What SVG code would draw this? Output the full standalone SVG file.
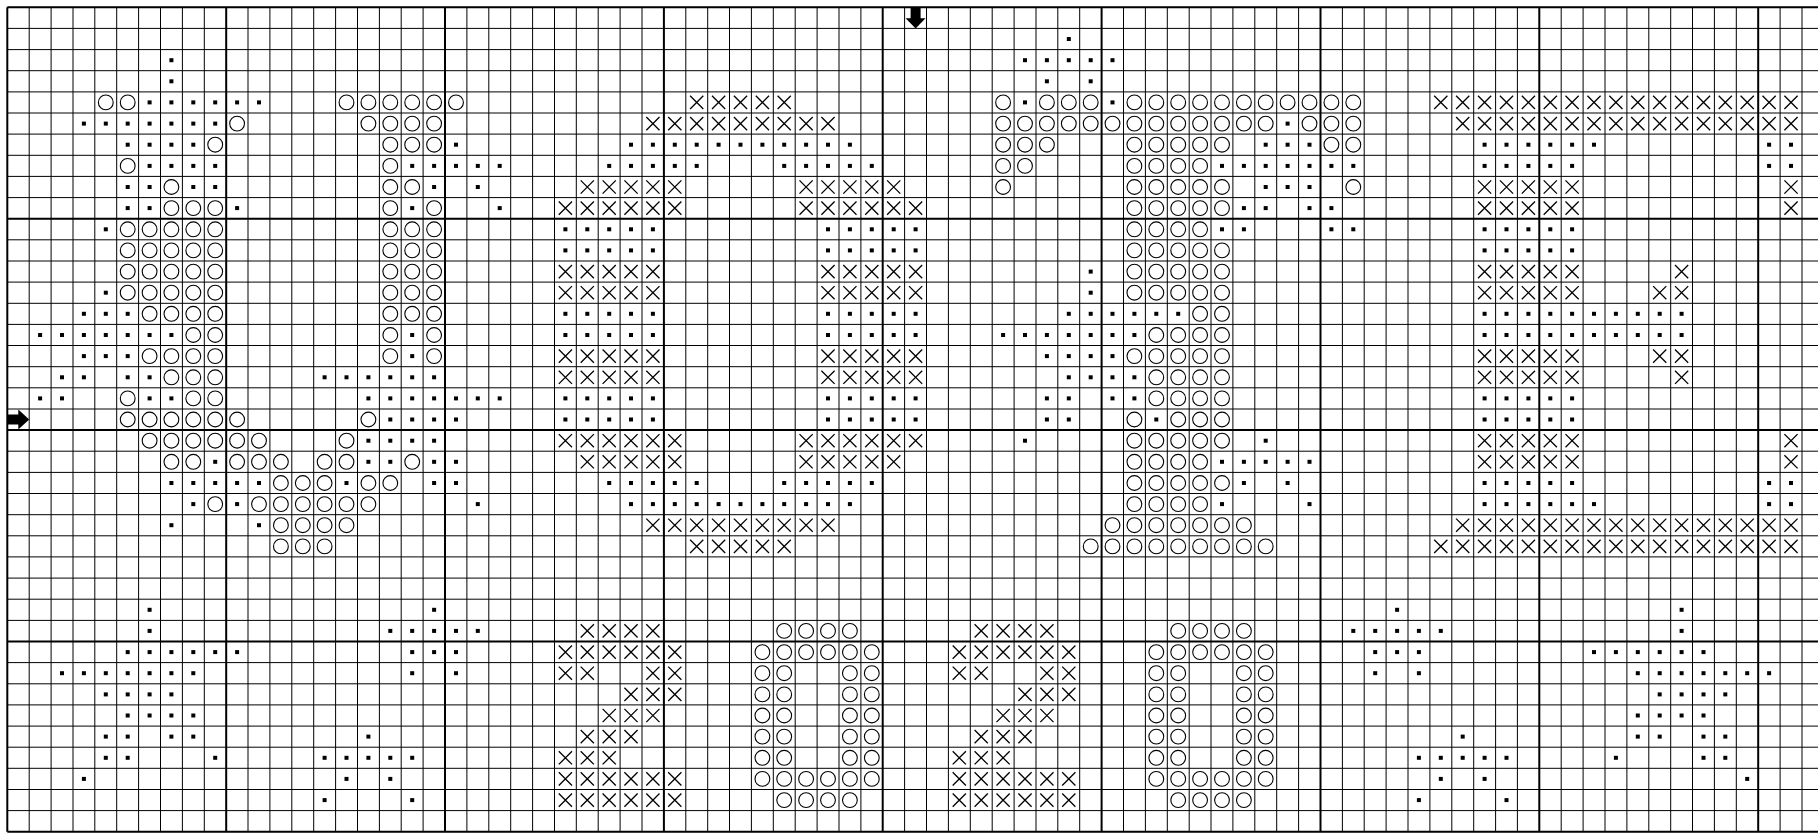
<svg xmlns="http://www.w3.org/2000/svg" width="1818" height="833" viewBox="0 0 1818 833">
<defs>
<style>
.thin{stroke:#000;stroke-width:1;fill:none}
.bold{stroke:#000;stroke-width:2;fill:none}
</style>
<rect id="d" x="-2" y="-2" width="4" height="4" fill="#000"/>
<circle id="o" r="7.4" fill="none" stroke="#000" stroke-width="1.1"/>
<path id="x" d="M-6.6,-6.6L6.6,6.6M6.6,-6.6L-6.6,6.6" stroke="#000" stroke-width="1.3" fill="none"/>
</defs>
<rect width="1818" height="833" fill="#fff"/>
<g id="grid">
<path class="thin" d="M29.2 7.3v824.5M51.1 7.3v824.5M73 7.3v824.5M94.8 7.3v824.5M116.7 7.3v824.5M138.6 7.3v824.5M160.5 7.3v824.5M182.4 7.3v824.5M204.3 7.3v824.5M248 7.3v824.5M269.9 7.3v824.5M291.8 7.3v824.5M313.7 7.3v824.5M335.6 7.3v824.5M357.5 7.3v824.5M379.4 7.3v824.5M401.2 7.3v824.5M423.1 7.3v824.5M466.9 7.3v824.5M488.8 7.3v824.5M510.7 7.3v824.5M532.6 7.3v824.5M554.5 7.3v824.5M576.3 7.3v824.5M598.2 7.3v824.5M620.1 7.3v824.5M642 7.3v824.5M685.8 7.3v824.5M707.7 7.3v824.5M729.5 7.3v824.5M751.4 7.3v824.5M773.3 7.3v824.5M795.2 7.3v824.5M817.1 7.3v824.5M839 7.3v824.5M860.9 7.3v824.5M904.6 7.3v824.5M926.5 7.3v824.5M948.4 7.3v824.5M970.3 7.3v824.5M992.2 7.3v824.5M1014.1 7.3v824.5M1036 7.3v824.5M1057.8 7.3v824.5M1079.7 7.3v824.5M1123.5 7.3v824.5M1145.4 7.3v824.5M1167.3 7.3v824.5M1189.2 7.3v824.5M1211 7.3v824.5M1232.9 7.3v824.5M1254.8 7.3v824.5M1276.7 7.3v824.5M1298.6 7.3v824.5M1342.4 7.3v824.5M1364.2 7.3v824.5M1386.1 7.3v824.5M1408 7.3v824.5M1429.9 7.3v824.5M1451.8 7.3v824.5M1473.7 7.3v824.5M1495.6 7.3v824.5M1517.4 7.3v824.5M1561.2 7.3v824.5M1583.1 7.3v824.5M1605 7.3v824.5M1626.9 7.3v824.5M1648.8 7.3v824.5M1670.7 7.3v824.5M1692.5 7.3v824.5M1714.4 7.3v824.5M1736.3 7.3v824.5M1780.1 7.3v824.5M1802 7.3v824.5
M7.3 28.4H1818M7.3 49.6H1818M7.3 70.7H1818M7.3 91.9H1818M7.3 113H1818M7.3 134.1H1818M7.3 155.3H1818M7.3 176.4H1818M7.3 197.6H1818M7.3 239.8H1818M7.3 261H1818M7.3 282.1H1818M7.3 303.3H1818M7.3 324.4H1818M7.3 345.5H1818M7.3 366.7H1818M7.3 387.8H1818M7.3 409H1818M7.3 451.2H1818M7.3 472.4H1818M7.3 493.5H1818M7.3 514.7H1818M7.3 535.8H1818M7.3 556.9H1818M7.3 578.1H1818M7.3 599.2H1818M7.3 620.4H1818M7.3 662.6H1818M7.3 683.8H1818M7.3 704.9H1818M7.3 726.1H1818M7.3 747.2H1818M7.3 768.3H1818M7.3 789.5H1818M7.3 810.6H1818"/>
<path class="bold" d="M7.3 7.3v824.5M226.2 7.3v824.5M445 7.3v824.5M663.9 7.3v824.5M882.7 7.3v824.5M1101.6 7.3v824.5M1320.5 7.3v824.5M1539.3 7.3v824.5M1758.2 7.3v824.5M7.3 7.3H1818M7.3 218.7H1818M7.3 430.1H1818M7.3 641.5H1818M7.3 831.8H1818"/>
</g>
<g id="stitches">
<g transform="translate(0,39)"><use href="#d" x="1068.8"/></g>
<g transform="translate(0,60.2)"><use href="#d" x="171.4"/><use href="#d" x="1025"/><use href="#d" x="1046.9"/><use href="#d" x="1068.8"/><use href="#d" x="1090.7"/><use href="#d" x="1112.5"/></g>
<g transform="translate(0,81.3)"><use href="#d" x="171.4"/><use href="#d" x="1046.9"/><use href="#d" x="1090.7"/></g>
<g transform="translate(0,102.4)"><use href="#o" x="105.8"/><use href="#o" x="127.7"/><use href="#d" x="149.6"/><use href="#d" x="171.4"/><use href="#d" x="193.3"/><use href="#d" x="215.2"/><use href="#d" x="237.1"/><use href="#d" x="259"/><use href="#o" x="346.5"/><use href="#o" x="368.4"/><use href="#o" x="390.3"/><use href="#o" x="412.2"/><use href="#o" x="434.1"/><use href="#o" x="456"/><use href="#x" x="696.7"/><use href="#x" x="718.6"/><use href="#x" x="740.5"/><use href="#x" x="762.4"/><use href="#x" x="784.2"/><use href="#o" x="1003.1"/><use href="#d" x="1025"/><use href="#o" x="1046.9"/><use href="#o" x="1068.8"/><use href="#o" x="1090.7"/><use href="#d" x="1112.5"/><use href="#o" x="1134.4"/><use href="#o" x="1156.3"/><use href="#o" x="1178.2"/><use href="#o" x="1200.1"/><use href="#o" x="1222"/><use href="#o" x="1243.9"/><use href="#o" x="1265.7"/><use href="#o" x="1287.6"/><use href="#o" x="1309.5"/><use href="#o" x="1331.4"/><use href="#o" x="1353.3"/><use href="#x" x="1440.8"/><use href="#x" x="1462.7"/><use href="#x" x="1484.6"/><use href="#x" x="1506.5"/><use href="#x" x="1528.4"/><use href="#x" x="1550.3"/><use href="#x" x="1572.1"/><use href="#x" x="1594"/><use href="#x" x="1615.9"/><use href="#x" x="1637.8"/><use href="#x" x="1659.7"/><use href="#x" x="1681.6"/><use href="#x" x="1703.5"/><use href="#x" x="1725.3"/><use href="#x" x="1747.2"/><use href="#x" x="1769.1"/><use href="#x" x="1791"/></g>
<g transform="translate(0,123.6)"><use href="#d" x="83.9"/><use href="#d" x="105.8"/><use href="#d" x="127.7"/><use href="#d" x="149.6"/><use href="#d" x="171.4"/><use href="#d" x="193.3"/><use href="#d" x="215.2"/><use href="#o" x="237.1"/><use href="#o" x="368.4"/><use href="#o" x="390.3"/><use href="#o" x="412.2"/><use href="#o" x="434.1"/><use href="#x" x="652.9"/><use href="#x" x="674.8"/><use href="#x" x="696.7"/><use href="#x" x="718.6"/><use href="#x" x="740.5"/><use href="#x" x="762.4"/><use href="#x" x="784.2"/><use href="#x" x="806.1"/><use href="#x" x="828"/><use href="#o" x="1003.1"/><use href="#o" x="1025"/><use href="#o" x="1046.9"/><use href="#o" x="1068.8"/><use href="#o" x="1090.7"/><use href="#o" x="1112.5"/><use href="#o" x="1134.4"/><use href="#o" x="1156.3"/><use href="#o" x="1178.2"/><use href="#o" x="1200.1"/><use href="#o" x="1222"/><use href="#o" x="1243.9"/><use href="#o" x="1265.7"/><use href="#d" x="1287.6"/><use href="#o" x="1309.5"/><use href="#o" x="1331.4"/><use href="#o" x="1353.3"/><use href="#x" x="1462.7"/><use href="#x" x="1484.6"/><use href="#x" x="1506.5"/><use href="#x" x="1528.4"/><use href="#x" x="1550.3"/><use href="#x" x="1572.1"/><use href="#x" x="1594"/><use href="#x" x="1615.9"/><use href="#x" x="1637.8"/><use href="#x" x="1659.7"/><use href="#x" x="1681.6"/><use href="#x" x="1703.5"/><use href="#x" x="1725.3"/><use href="#x" x="1747.2"/><use href="#x" x="1769.1"/><use href="#x" x="1791"/></g>
<g transform="translate(0,144.7)"><use href="#d" x="127.7"/><use href="#d" x="149.6"/><use href="#d" x="171.4"/><use href="#d" x="193.3"/><use href="#o" x="215.2"/><use href="#o" x="390.3"/><use href="#o" x="412.2"/><use href="#o" x="434.1"/><use href="#d" x="456"/><use href="#d" x="631"/><use href="#d" x="652.9"/><use href="#d" x="674.8"/><use href="#d" x="696.7"/><use href="#d" x="718.6"/><use href="#d" x="740.5"/><use href="#d" x="762.4"/><use href="#d" x="784.2"/><use href="#d" x="806.1"/><use href="#d" x="828"/><use href="#d" x="849.9"/><use href="#o" x="1003.1"/><use href="#o" x="1025"/><use href="#o" x="1046.9"/><use href="#o" x="1134.4"/><use href="#o" x="1156.3"/><use href="#o" x="1178.2"/><use href="#o" x="1200.1"/><use href="#o" x="1222"/><use href="#d" x="1265.7"/><use href="#d" x="1287.6"/><use href="#d" x="1309.5"/><use href="#o" x="1331.4"/><use href="#o" x="1353.3"/><use href="#d" x="1484.6"/><use href="#d" x="1506.5"/><use href="#d" x="1528.4"/><use href="#d" x="1550.3"/><use href="#d" x="1572.1"/><use href="#d" x="1594"/><use href="#d" x="1769.1"/><use href="#d" x="1791"/></g>
<g transform="translate(0,165.9)"><use href="#o" x="127.7"/><use href="#d" x="149.6"/><use href="#d" x="171.4"/><use href="#d" x="193.3"/><use href="#d" x="215.2"/><use href="#o" x="390.3"/><use href="#d" x="412.2"/><use href="#d" x="434.1"/><use href="#d" x="456"/><use href="#d" x="477.8"/><use href="#d" x="499.7"/><use href="#d" x="609.2"/><use href="#d" x="631"/><use href="#d" x="652.9"/><use href="#d" x="674.8"/><use href="#d" x="696.7"/><use href="#d" x="784.2"/><use href="#d" x="806.1"/><use href="#d" x="828"/><use href="#d" x="849.9"/><use href="#d" x="871.8"/><use href="#o" x="1003.1"/><use href="#o" x="1025"/><use href="#o" x="1134.4"/><use href="#o" x="1156.3"/><use href="#o" x="1178.2"/><use href="#o" x="1200.1"/><use href="#d" x="1222"/><use href="#d" x="1243.9"/><use href="#d" x="1265.7"/><use href="#d" x="1287.6"/><use href="#d" x="1309.5"/><use href="#d" x="1331.4"/><use href="#d" x="1353.3"/><use href="#d" x="1484.6"/><use href="#d" x="1506.5"/><use href="#d" x="1528.4"/><use href="#d" x="1550.3"/><use href="#d" x="1572.1"/><use href="#d" x="1769.1"/><use href="#d" x="1791"/></g>
<g transform="translate(0,187)"><use href="#d" x="127.7"/><use href="#d" x="149.6"/><use href="#o" x="171.4"/><use href="#d" x="193.3"/><use href="#d" x="215.2"/><use href="#o" x="390.3"/><use href="#o" x="412.2"/><use href="#d" x="434.1"/><use href="#d" x="477.8"/><use href="#x" x="587.3"/><use href="#x" x="609.2"/><use href="#x" x="631"/><use href="#x" x="652.9"/><use href="#x" x="674.8"/><use href="#x" x="806.1"/><use href="#x" x="828"/><use href="#x" x="849.9"/><use href="#x" x="871.8"/><use href="#x" x="893.7"/><use href="#o" x="1003.1"/><use href="#o" x="1134.4"/><use href="#o" x="1156.3"/><use href="#o" x="1178.2"/><use href="#o" x="1200.1"/><use href="#o" x="1222"/><use href="#d" x="1265.7"/><use href="#d" x="1287.6"/><use href="#d" x="1309.5"/><use href="#o" x="1353.3"/><use href="#x" x="1484.6"/><use href="#x" x="1506.5"/><use href="#x" x="1528.4"/><use href="#x" x="1550.3"/><use href="#x" x="1572.1"/><use href="#x" x="1791"/></g>
<g transform="translate(0,208.1)"><use href="#d" x="127.7"/><use href="#d" x="149.6"/><use href="#o" x="171.4"/><use href="#o" x="193.3"/><use href="#o" x="215.2"/><use href="#d" x="237.1"/><use href="#o" x="390.3"/><use href="#d" x="412.2"/><use href="#o" x="434.1"/><use href="#d" x="499.7"/><use href="#x" x="565.4"/><use href="#x" x="587.3"/><use href="#x" x="609.2"/><use href="#x" x="631"/><use href="#x" x="652.9"/><use href="#x" x="674.8"/><use href="#x" x="806.1"/><use href="#x" x="828"/><use href="#x" x="849.9"/><use href="#x" x="871.8"/><use href="#x" x="893.7"/><use href="#x" x="915.6"/><use href="#o" x="1134.4"/><use href="#o" x="1156.3"/><use href="#o" x="1178.2"/><use href="#o" x="1200.1"/><use href="#o" x="1222"/><use href="#d" x="1243.9"/><use href="#d" x="1265.7"/><use href="#d" x="1309.5"/><use href="#d" x="1331.4"/><use href="#x" x="1484.6"/><use href="#x" x="1506.5"/><use href="#x" x="1528.4"/><use href="#x" x="1550.3"/><use href="#x" x="1572.1"/><use href="#x" x="1791"/></g>
<g transform="translate(0,229.3)"><use href="#d" x="105.8"/><use href="#o" x="127.7"/><use href="#o" x="149.6"/><use href="#o" x="171.4"/><use href="#o" x="193.3"/><use href="#o" x="215.2"/><use href="#o" x="390.3"/><use href="#o" x="412.2"/><use href="#o" x="434.1"/><use href="#d" x="565.4"/><use href="#d" x="587.3"/><use href="#d" x="609.2"/><use href="#d" x="631"/><use href="#d" x="652.9"/><use href="#d" x="828"/><use href="#d" x="849.9"/><use href="#d" x="871.8"/><use href="#d" x="893.7"/><use href="#d" x="915.6"/><use href="#o" x="1134.4"/><use href="#o" x="1156.3"/><use href="#o" x="1178.2"/><use href="#o" x="1200.1"/><use href="#d" x="1222"/><use href="#d" x="1243.9"/><use href="#d" x="1331.4"/><use href="#d" x="1353.3"/><use href="#d" x="1484.6"/><use href="#d" x="1506.5"/><use href="#d" x="1528.4"/><use href="#d" x="1550.3"/><use href="#d" x="1572.1"/></g>
<g transform="translate(0,250.4)"><use href="#o" x="127.7"/><use href="#o" x="149.6"/><use href="#o" x="171.4"/><use href="#o" x="193.3"/><use href="#o" x="215.2"/><use href="#o" x="390.3"/><use href="#o" x="412.2"/><use href="#o" x="434.1"/><use href="#d" x="565.4"/><use href="#d" x="587.3"/><use href="#d" x="609.2"/><use href="#d" x="631"/><use href="#d" x="652.9"/><use href="#d" x="828"/><use href="#d" x="849.9"/><use href="#d" x="871.8"/><use href="#d" x="893.7"/><use href="#d" x="915.6"/><use href="#o" x="1134.4"/><use href="#o" x="1156.3"/><use href="#o" x="1178.2"/><use href="#o" x="1200.1"/><use href="#o" x="1222"/><use href="#d" x="1484.6"/><use href="#d" x="1506.5"/><use href="#d" x="1528.4"/><use href="#d" x="1550.3"/><use href="#d" x="1572.1"/></g>
<g transform="translate(0,271.6)"><use href="#o" x="127.7"/><use href="#o" x="149.6"/><use href="#o" x="171.4"/><use href="#o" x="193.3"/><use href="#o" x="215.2"/><use href="#o" x="390.3"/><use href="#o" x="412.2"/><use href="#o" x="434.1"/><use href="#x" x="565.4"/><use href="#x" x="587.3"/><use href="#x" x="609.2"/><use href="#x" x="631"/><use href="#x" x="652.9"/><use href="#x" x="828"/><use href="#x" x="849.9"/><use href="#x" x="871.8"/><use href="#x" x="893.7"/><use href="#x" x="915.6"/><use href="#d" x="1090.7"/><use href="#o" x="1134.4"/><use href="#o" x="1156.3"/><use href="#o" x="1178.2"/><use href="#o" x="1200.1"/><use href="#o" x="1222"/><use href="#x" x="1484.6"/><use href="#x" x="1506.5"/><use href="#x" x="1528.4"/><use href="#x" x="1550.3"/><use href="#x" x="1572.1"/><use href="#x" x="1681.6"/></g>
<g transform="translate(0,292.7)"><use href="#d" x="105.8"/><use href="#o" x="127.7"/><use href="#o" x="149.6"/><use href="#o" x="171.4"/><use href="#o" x="193.3"/><use href="#o" x="215.2"/><use href="#o" x="390.3"/><use href="#o" x="412.2"/><use href="#o" x="434.1"/><use href="#x" x="565.4"/><use href="#x" x="587.3"/><use href="#x" x="609.2"/><use href="#x" x="631"/><use href="#x" x="652.9"/><use href="#x" x="828"/><use href="#x" x="849.9"/><use href="#x" x="871.8"/><use href="#x" x="893.7"/><use href="#x" x="915.6"/><use href="#d" x="1090.7"/><use href="#o" x="1134.4"/><use href="#o" x="1156.3"/><use href="#o" x="1178.2"/><use href="#o" x="1200.1"/><use href="#o" x="1222"/><use href="#x" x="1484.6"/><use href="#x" x="1506.5"/><use href="#x" x="1528.4"/><use href="#x" x="1550.3"/><use href="#x" x="1572.1"/><use href="#x" x="1659.7"/><use href="#x" x="1681.6"/></g>
<g transform="translate(0,313.8)"><use href="#d" x="83.9"/><use href="#d" x="105.8"/><use href="#d" x="127.7"/><use href="#o" x="149.6"/><use href="#o" x="171.4"/><use href="#o" x="193.3"/><use href="#o" x="215.2"/><use href="#o" x="390.3"/><use href="#o" x="412.2"/><use href="#o" x="434.1"/><use href="#d" x="565.4"/><use href="#d" x="587.3"/><use href="#d" x="609.2"/><use href="#d" x="631"/><use href="#d" x="652.9"/><use href="#d" x="828"/><use href="#d" x="849.9"/><use href="#d" x="871.8"/><use href="#d" x="893.7"/><use href="#d" x="915.6"/><use href="#d" x="1068.8"/><use href="#d" x="1090.7"/><use href="#d" x="1112.5"/><use href="#d" x="1134.4"/><use href="#d" x="1156.3"/><use href="#d" x="1178.2"/><use href="#o" x="1200.1"/><use href="#o" x="1222"/><use href="#d" x="1484.6"/><use href="#d" x="1506.5"/><use href="#d" x="1528.4"/><use href="#d" x="1550.3"/><use href="#d" x="1572.1"/><use href="#d" x="1594"/><use href="#d" x="1615.9"/><use href="#d" x="1637.8"/><use href="#d" x="1659.7"/><use href="#d" x="1681.6"/></g>
<g transform="translate(0,335)"><use href="#d" x="40.1"/><use href="#d" x="62"/><use href="#d" x="83.9"/><use href="#d" x="105.8"/><use href="#d" x="127.7"/><use href="#d" x="149.6"/><use href="#d" x="171.4"/><use href="#o" x="193.3"/><use href="#o" x="215.2"/><use href="#o" x="390.3"/><use href="#d" x="412.2"/><use href="#o" x="434.1"/><use href="#d" x="565.4"/><use href="#d" x="587.3"/><use href="#d" x="609.2"/><use href="#d" x="631"/><use href="#d" x="652.9"/><use href="#d" x="828"/><use href="#d" x="849.9"/><use href="#d" x="871.8"/><use href="#d" x="893.7"/><use href="#d" x="915.6"/><use href="#d" x="1003.1"/><use href="#d" x="1025"/><use href="#d" x="1046.9"/><use href="#d" x="1068.8"/><use href="#d" x="1090.7"/><use href="#d" x="1112.5"/><use href="#d" x="1134.4"/><use href="#o" x="1156.3"/><use href="#o" x="1178.2"/><use href="#o" x="1200.1"/><use href="#o" x="1222"/><use href="#d" x="1484.6"/><use href="#d" x="1506.5"/><use href="#d" x="1528.4"/><use href="#d" x="1550.3"/><use href="#d" x="1572.1"/><use href="#d" x="1594"/><use href="#d" x="1615.9"/><use href="#d" x="1637.8"/><use href="#d" x="1659.7"/><use href="#d" x="1681.6"/></g>
<g transform="translate(0,356.1)"><use href="#d" x="83.9"/><use href="#d" x="105.8"/><use href="#d" x="127.7"/><use href="#o" x="149.6"/><use href="#o" x="171.4"/><use href="#o" x="193.3"/><use href="#o" x="215.2"/><use href="#o" x="390.3"/><use href="#d" x="412.2"/><use href="#o" x="434.1"/><use href="#x" x="565.4"/><use href="#x" x="587.3"/><use href="#x" x="609.2"/><use href="#x" x="631"/><use href="#x" x="652.9"/><use href="#x" x="828"/><use href="#x" x="849.9"/><use href="#x" x="871.8"/><use href="#x" x="893.7"/><use href="#x" x="915.6"/><use href="#d" x="1046.9"/><use href="#d" x="1068.8"/><use href="#d" x="1090.7"/><use href="#d" x="1112.5"/><use href="#o" x="1134.4"/><use href="#o" x="1156.3"/><use href="#o" x="1178.2"/><use href="#o" x="1200.1"/><use href="#o" x="1222"/><use href="#x" x="1484.6"/><use href="#x" x="1506.5"/><use href="#x" x="1528.4"/><use href="#x" x="1550.3"/><use href="#x" x="1572.1"/><use href="#x" x="1659.7"/><use href="#x" x="1681.6"/></g>
<g transform="translate(0,377.3)"><use href="#d" x="62"/><use href="#d" x="83.9"/><use href="#d" x="127.7"/><use href="#d" x="149.6"/><use href="#o" x="171.4"/><use href="#o" x="193.3"/><use href="#o" x="215.2"/><use href="#d" x="324.6"/><use href="#d" x="346.5"/><use href="#d" x="368.4"/><use href="#d" x="390.3"/><use href="#d" x="412.2"/><use href="#d" x="434.1"/><use href="#x" x="565.4"/><use href="#x" x="587.3"/><use href="#x" x="609.2"/><use href="#x" x="631"/><use href="#x" x="652.9"/><use href="#x" x="828"/><use href="#x" x="849.9"/><use href="#x" x="871.8"/><use href="#x" x="893.7"/><use href="#x" x="915.6"/><use href="#d" x="1068.8"/><use href="#d" x="1090.7"/><use href="#d" x="1112.5"/><use href="#d" x="1134.4"/><use href="#o" x="1156.3"/><use href="#o" x="1178.2"/><use href="#o" x="1200.1"/><use href="#o" x="1222"/><use href="#x" x="1484.6"/><use href="#x" x="1506.5"/><use href="#x" x="1528.4"/><use href="#x" x="1550.3"/><use href="#x" x="1572.1"/><use href="#x" x="1681.6"/></g>
<g transform="translate(0,398.4)"><use href="#d" x="40.1"/><use href="#d" x="62"/><use href="#o" x="127.7"/><use href="#d" x="149.6"/><use href="#d" x="171.4"/><use href="#o" x="193.3"/><use href="#o" x="215.2"/><use href="#d" x="368.4"/><use href="#d" x="390.3"/><use href="#d" x="412.2"/><use href="#d" x="434.1"/><use href="#d" x="456"/><use href="#d" x="477.8"/><use href="#d" x="499.7"/><use href="#d" x="565.4"/><use href="#d" x="587.3"/><use href="#d" x="609.2"/><use href="#d" x="631"/><use href="#d" x="652.9"/><use href="#d" x="828"/><use href="#d" x="849.9"/><use href="#d" x="871.8"/><use href="#d" x="893.7"/><use href="#d" x="915.6"/><use href="#d" x="1046.9"/><use href="#d" x="1068.8"/><use href="#d" x="1112.5"/><use href="#d" x="1134.4"/><use href="#o" x="1156.3"/><use href="#o" x="1178.2"/><use href="#o" x="1200.1"/><use href="#o" x="1222"/><use href="#d" x="1484.6"/><use href="#d" x="1506.5"/><use href="#d" x="1528.4"/><use href="#d" x="1550.3"/><use href="#d" x="1572.1"/></g>
<g transform="translate(0,419.5)"><use href="#o" x="127.7"/><use href="#o" x="149.6"/><use href="#o" x="171.4"/><use href="#o" x="193.3"/><use href="#o" x="215.2"/><use href="#o" x="237.1"/><use href="#o" x="368.4"/><use href="#d" x="390.3"/><use href="#d" x="412.2"/><use href="#d" x="434.1"/><use href="#d" x="456"/><use href="#d" x="565.4"/><use href="#d" x="587.3"/><use href="#d" x="609.2"/><use href="#d" x="631"/><use href="#d" x="652.9"/><use href="#d" x="828"/><use href="#d" x="849.9"/><use href="#d" x="871.8"/><use href="#d" x="893.7"/><use href="#d" x="915.6"/><use href="#d" x="1046.9"/><use href="#d" x="1068.8"/><use href="#o" x="1134.4"/><use href="#d" x="1156.3"/><use href="#o" x="1178.2"/><use href="#o" x="1200.1"/><use href="#o" x="1222"/><use href="#d" x="1484.6"/><use href="#d" x="1506.5"/><use href="#d" x="1528.4"/><use href="#d" x="1550.3"/><use href="#d" x="1572.1"/></g>
<g transform="translate(0,440.7)"><use href="#o" x="149.6"/><use href="#o" x="171.4"/><use href="#o" x="193.3"/><use href="#o" x="215.2"/><use href="#o" x="237.1"/><use href="#o" x="259"/><use href="#o" x="346.5"/><use href="#d" x="368.4"/><use href="#d" x="390.3"/><use href="#d" x="412.2"/><use href="#d" x="434.1"/><use href="#x" x="565.4"/><use href="#x" x="587.3"/><use href="#x" x="609.2"/><use href="#x" x="631"/><use href="#x" x="652.9"/><use href="#x" x="674.8"/><use href="#x" x="806.1"/><use href="#x" x="828"/><use href="#x" x="849.9"/><use href="#x" x="871.8"/><use href="#x" x="893.7"/><use href="#x" x="915.6"/><use href="#d" x="1025"/><use href="#o" x="1134.4"/><use href="#o" x="1156.3"/><use href="#o" x="1178.2"/><use href="#o" x="1200.1"/><use href="#o" x="1222"/><use href="#d" x="1265.7"/><use href="#x" x="1484.6"/><use href="#x" x="1506.5"/><use href="#x" x="1528.4"/><use href="#x" x="1550.3"/><use href="#x" x="1572.1"/><use href="#x" x="1791"/></g>
<g transform="translate(0,461.8)"><use href="#o" x="171.4"/><use href="#o" x="193.3"/><use href="#d" x="215.2"/><use href="#o" x="237.1"/><use href="#o" x="259"/><use href="#o" x="280.9"/><use href="#o" x="324.6"/><use href="#o" x="346.5"/><use href="#d" x="368.4"/><use href="#d" x="390.3"/><use href="#o" x="412.2"/><use href="#d" x="434.1"/><use href="#d" x="456"/><use href="#x" x="587.3"/><use href="#x" x="609.2"/><use href="#x" x="631"/><use href="#x" x="652.9"/><use href="#x" x="674.8"/><use href="#x" x="806.1"/><use href="#x" x="828"/><use href="#x" x="849.9"/><use href="#x" x="871.8"/><use href="#x" x="893.7"/><use href="#o" x="1134.4"/><use href="#o" x="1156.3"/><use href="#o" x="1178.2"/><use href="#o" x="1200.1"/><use href="#d" x="1222"/><use href="#d" x="1243.9"/><use href="#d" x="1265.7"/><use href="#d" x="1287.6"/><use href="#d" x="1309.5"/><use href="#x" x="1484.6"/><use href="#x" x="1506.5"/><use href="#x" x="1528.4"/><use href="#x" x="1550.3"/><use href="#x" x="1572.1"/><use href="#x" x="1791"/></g>
<g transform="translate(0,483)"><use href="#d" x="171.4"/><use href="#d" x="193.3"/><use href="#d" x="215.2"/><use href="#d" x="237.1"/><use href="#d" x="259"/><use href="#o" x="280.9"/><use href="#o" x="302.8"/><use href="#o" x="324.6"/><use href="#d" x="346.5"/><use href="#o" x="368.4"/><use href="#o" x="390.3"/><use href="#d" x="434.1"/><use href="#d" x="456"/><use href="#d" x="609.2"/><use href="#d" x="631"/><use href="#d" x="652.9"/><use href="#d" x="674.8"/><use href="#d" x="696.7"/><use href="#d" x="784.2"/><use href="#d" x="806.1"/><use href="#d" x="828"/><use href="#d" x="849.9"/><use href="#d" x="871.8"/><use href="#o" x="1134.4"/><use href="#o" x="1156.3"/><use href="#o" x="1178.2"/><use href="#o" x="1200.1"/><use href="#o" x="1222"/><use href="#d" x="1243.9"/><use href="#d" x="1287.6"/><use href="#d" x="1484.6"/><use href="#d" x="1506.5"/><use href="#d" x="1528.4"/><use href="#d" x="1550.3"/><use href="#d" x="1572.1"/><use href="#d" x="1769.1"/><use href="#d" x="1791"/></g>
<g transform="translate(0,504.1)"><use href="#d" x="193.3"/><use href="#o" x="215.2"/><use href="#d" x="237.1"/><use href="#o" x="259"/><use href="#o" x="280.9"/><use href="#o" x="302.8"/><use href="#o" x="324.6"/><use href="#o" x="346.5"/><use href="#o" x="368.4"/><use href="#d" x="477.8"/><use href="#d" x="631"/><use href="#d" x="652.9"/><use href="#d" x="674.8"/><use href="#d" x="696.7"/><use href="#d" x="718.6"/><use href="#d" x="740.5"/><use href="#d" x="762.4"/><use href="#d" x="784.2"/><use href="#d" x="806.1"/><use href="#d" x="828"/><use href="#d" x="849.9"/><use href="#o" x="1134.4"/><use href="#o" x="1156.3"/><use href="#o" x="1178.2"/><use href="#o" x="1200.1"/><use href="#d" x="1222"/><use href="#d" x="1309.5"/><use href="#d" x="1484.6"/><use href="#d" x="1506.5"/><use href="#d" x="1528.4"/><use href="#d" x="1550.3"/><use href="#d" x="1572.1"/><use href="#d" x="1594"/><use href="#d" x="1769.1"/><use href="#d" x="1791"/></g>
<g transform="translate(0,525.2)"><use href="#d" x="171.4"/><use href="#d" x="259"/><use href="#o" x="280.9"/><use href="#o" x="302.8"/><use href="#o" x="324.6"/><use href="#o" x="346.5"/><use href="#x" x="652.9"/><use href="#x" x="674.8"/><use href="#x" x="696.7"/><use href="#x" x="718.6"/><use href="#x" x="740.5"/><use href="#x" x="762.4"/><use href="#x" x="784.2"/><use href="#x" x="806.1"/><use href="#x" x="828"/><use href="#o" x="1112.5"/><use href="#o" x="1134.4"/><use href="#o" x="1156.3"/><use href="#o" x="1178.2"/><use href="#o" x="1200.1"/><use href="#o" x="1222"/><use href="#o" x="1243.9"/><use href="#x" x="1462.7"/><use href="#x" x="1484.6"/><use href="#x" x="1506.5"/><use href="#x" x="1528.4"/><use href="#x" x="1550.3"/><use href="#x" x="1572.1"/><use href="#x" x="1594"/><use href="#x" x="1615.9"/><use href="#x" x="1637.8"/><use href="#x" x="1659.7"/><use href="#x" x="1681.6"/><use href="#x" x="1703.5"/><use href="#x" x="1725.3"/><use href="#x" x="1747.2"/><use href="#x" x="1769.1"/><use href="#x" x="1791"/></g>
<g transform="translate(0,546.4)"><use href="#o" x="280.9"/><use href="#o" x="302.8"/><use href="#o" x="324.6"/><use href="#x" x="696.7"/><use href="#x" x="718.6"/><use href="#x" x="740.5"/><use href="#x" x="762.4"/><use href="#x" x="784.2"/><use href="#o" x="1090.7"/><use href="#o" x="1112.5"/><use href="#o" x="1134.4"/><use href="#o" x="1156.3"/><use href="#o" x="1178.2"/><use href="#o" x="1200.1"/><use href="#o" x="1222"/><use href="#o" x="1243.9"/><use href="#o" x="1265.7"/><use href="#x" x="1440.8"/><use href="#x" x="1462.7"/><use href="#x" x="1484.6"/><use href="#x" x="1506.5"/><use href="#x" x="1528.4"/><use href="#x" x="1550.3"/><use href="#x" x="1572.1"/><use href="#x" x="1594"/><use href="#x" x="1615.9"/><use href="#x" x="1637.8"/><use href="#x" x="1659.7"/><use href="#x" x="1681.6"/><use href="#x" x="1703.5"/><use href="#x" x="1725.3"/><use href="#x" x="1747.2"/><use href="#x" x="1769.1"/><use href="#x" x="1791"/></g>
<g transform="translate(0,609.8)"><use href="#d" x="149.6"/><use href="#d" x="434.1"/><use href="#d" x="1397.1"/><use href="#d" x="1681.6"/></g>
<g transform="translate(0,630.9)"><use href="#d" x="149.6"/><use href="#d" x="390.3"/><use href="#d" x="412.2"/><use href="#d" x="434.1"/><use href="#d" x="456"/><use href="#d" x="477.8"/><use href="#x" x="587.3"/><use href="#x" x="609.2"/><use href="#x" x="631"/><use href="#x" x="652.9"/><use href="#o" x="784.2"/><use href="#o" x="806.1"/><use href="#o" x="828"/><use href="#o" x="849.9"/><use href="#x" x="981.2"/><use href="#x" x="1003.1"/><use href="#x" x="1025"/><use href="#x" x="1046.9"/><use href="#o" x="1178.2"/><use href="#o" x="1200.1"/><use href="#o" x="1222"/><use href="#o" x="1243.9"/><use href="#d" x="1353.3"/><use href="#d" x="1375.2"/><use href="#d" x="1397.1"/><use href="#d" x="1418.9"/><use href="#d" x="1440.8"/><use href="#d" x="1681.6"/></g>
<g transform="translate(0,652.1)"><use href="#d" x="127.7"/><use href="#d" x="149.6"/><use href="#d" x="171.4"/><use href="#d" x="193.3"/><use href="#d" x="215.2"/><use href="#d" x="237.1"/><use href="#d" x="412.2"/><use href="#d" x="434.1"/><use href="#d" x="456"/><use href="#x" x="565.4"/><use href="#x" x="587.3"/><use href="#x" x="609.2"/><use href="#x" x="631"/><use href="#x" x="652.9"/><use href="#x" x="674.8"/><use href="#o" x="762.4"/><use href="#o" x="784.2"/><use href="#o" x="806.1"/><use href="#o" x="828"/><use href="#o" x="849.9"/><use href="#o" x="871.8"/><use href="#x" x="959.3"/><use href="#x" x="981.2"/><use href="#x" x="1003.1"/><use href="#x" x="1025"/><use href="#x" x="1046.9"/><use href="#x" x="1068.8"/><use href="#o" x="1156.3"/><use href="#o" x="1178.2"/><use href="#o" x="1200.1"/><use href="#o" x="1222"/><use href="#o" x="1243.9"/><use href="#o" x="1265.7"/><use href="#d" x="1375.2"/><use href="#d" x="1397.1"/><use href="#d" x="1418.9"/><use href="#d" x="1594"/><use href="#d" x="1615.9"/><use href="#d" x="1637.8"/><use href="#d" x="1659.7"/><use href="#d" x="1681.6"/><use href="#d" x="1703.5"/></g>
<g transform="translate(0,673.2)"><use href="#d" x="62"/><use href="#d" x="83.9"/><use href="#d" x="105.8"/><use href="#d" x="127.7"/><use href="#d" x="149.6"/><use href="#d" x="171.4"/><use href="#d" x="193.3"/><use href="#d" x="412.2"/><use href="#d" x="456"/><use href="#x" x="565.4"/><use href="#x" x="587.3"/><use href="#x" x="652.9"/><use href="#x" x="674.8"/><use href="#o" x="762.4"/><use href="#o" x="784.2"/><use href="#o" x="849.9"/><use href="#o" x="871.8"/><use href="#x" x="959.3"/><use href="#x" x="981.2"/><use href="#x" x="1046.9"/><use href="#x" x="1068.8"/><use href="#o" x="1156.3"/><use href="#o" x="1178.2"/><use href="#o" x="1243.9"/><use href="#o" x="1265.7"/><use href="#d" x="1375.2"/><use href="#d" x="1418.9"/><use href="#d" x="1637.8"/><use href="#d" x="1659.7"/><use href="#d" x="1681.6"/><use href="#d" x="1703.5"/><use href="#d" x="1725.3"/><use href="#d" x="1747.2"/><use href="#d" x="1769.1"/></g>
<g transform="translate(0,694.4)"><use href="#d" x="105.8"/><use href="#d" x="127.7"/><use href="#d" x="149.6"/><use href="#d" x="171.4"/><use href="#x" x="631"/><use href="#x" x="652.9"/><use href="#x" x="674.8"/><use href="#o" x="762.4"/><use href="#o" x="784.2"/><use href="#o" x="849.9"/><use href="#o" x="871.8"/><use href="#x" x="1025"/><use href="#x" x="1046.9"/><use href="#x" x="1068.8"/><use href="#o" x="1156.3"/><use href="#o" x="1178.2"/><use href="#o" x="1243.9"/><use href="#o" x="1265.7"/><use href="#d" x="1659.7"/><use href="#d" x="1681.6"/><use href="#d" x="1703.5"/><use href="#d" x="1725.3"/></g>
<g transform="translate(0,715.5)"><use href="#d" x="127.7"/><use href="#d" x="149.6"/><use href="#d" x="171.4"/><use href="#d" x="193.3"/><use href="#x" x="609.2"/><use href="#x" x="631"/><use href="#x" x="652.9"/><use href="#o" x="762.4"/><use href="#o" x="784.2"/><use href="#o" x="849.9"/><use href="#o" x="871.8"/><use href="#x" x="1003.1"/><use href="#x" x="1025"/><use href="#x" x="1046.9"/><use href="#o" x="1156.3"/><use href="#o" x="1178.2"/><use href="#o" x="1243.9"/><use href="#o" x="1265.7"/><use href="#d" x="1637.8"/><use href="#d" x="1659.7"/><use href="#d" x="1681.6"/><use href="#d" x="1703.5"/></g>
<g transform="translate(0,736.6)"><use href="#d" x="105.8"/><use href="#d" x="127.7"/><use href="#d" x="171.4"/><use href="#d" x="193.3"/><use href="#d" x="368.4"/><use href="#x" x="587.3"/><use href="#x" x="609.2"/><use href="#x" x="631"/><use href="#o" x="762.4"/><use href="#o" x="784.2"/><use href="#o" x="849.9"/><use href="#o" x="871.8"/><use href="#x" x="981.2"/><use href="#x" x="1003.1"/><use href="#x" x="1025"/><use href="#o" x="1156.3"/><use href="#o" x="1178.2"/><use href="#o" x="1243.9"/><use href="#o" x="1265.7"/><use href="#d" x="1462.7"/><use href="#d" x="1637.8"/><use href="#d" x="1659.7"/><use href="#d" x="1703.5"/><use href="#d" x="1725.3"/></g>
<g transform="translate(0,757.8)"><use href="#d" x="105.8"/><use href="#d" x="127.7"/><use href="#d" x="215.2"/><use href="#d" x="324.6"/><use href="#d" x="346.5"/><use href="#d" x="368.4"/><use href="#d" x="390.3"/><use href="#d" x="412.2"/><use href="#x" x="565.4"/><use href="#x" x="587.3"/><use href="#x" x="609.2"/><use href="#o" x="762.4"/><use href="#o" x="784.2"/><use href="#o" x="849.9"/><use href="#o" x="871.8"/><use href="#x" x="959.3"/><use href="#x" x="981.2"/><use href="#x" x="1003.1"/><use href="#o" x="1156.3"/><use href="#o" x="1178.2"/><use href="#o" x="1243.9"/><use href="#o" x="1265.7"/><use href="#d" x="1418.9"/><use href="#d" x="1440.8"/><use href="#d" x="1462.7"/><use href="#d" x="1484.6"/><use href="#d" x="1506.5"/><use href="#d" x="1615.9"/><use href="#d" x="1703.5"/><use href="#d" x="1725.3"/></g>
<g transform="translate(0,778.9)"><use href="#d" x="83.9"/><use href="#d" x="346.5"/><use href="#d" x="390.3"/><use href="#x" x="565.4"/><use href="#x" x="587.3"/><use href="#x" x="609.2"/><use href="#x" x="631"/><use href="#x" x="652.9"/><use href="#x" x="674.8"/><use href="#o" x="762.4"/><use href="#o" x="784.2"/><use href="#o" x="806.1"/><use href="#o" x="828"/><use href="#o" x="849.9"/><use href="#o" x="871.8"/><use href="#x" x="959.3"/><use href="#x" x="981.2"/><use href="#x" x="1003.1"/><use href="#x" x="1025"/><use href="#x" x="1046.9"/><use href="#x" x="1068.8"/><use href="#o" x="1156.3"/><use href="#o" x="1178.2"/><use href="#o" x="1200.1"/><use href="#o" x="1222"/><use href="#o" x="1243.9"/><use href="#o" x="1265.7"/><use href="#d" x="1440.8"/><use href="#d" x="1484.6"/><use href="#d" x="1747.2"/></g>
<g transform="translate(0,800.1)"><use href="#d" x="324.6"/><use href="#d" x="412.2"/><use href="#x" x="565.4"/><use href="#x" x="587.3"/><use href="#x" x="609.2"/><use href="#x" x="631"/><use href="#x" x="652.9"/><use href="#x" x="674.8"/><use href="#o" x="784.2"/><use href="#o" x="806.1"/><use href="#o" x="828"/><use href="#o" x="849.9"/><use href="#x" x="959.3"/><use href="#x" x="981.2"/><use href="#x" x="1003.1"/><use href="#x" x="1025"/><use href="#x" x="1046.9"/><use href="#x" x="1068.8"/><use href="#o" x="1178.2"/><use href="#o" x="1200.1"/><use href="#o" x="1222"/><use href="#o" x="1243.9"/><use href="#d" x="1418.9"/><use href="#d" x="1506.5"/></g>
</g>
<g id="arrows" fill="#000">
<polygon points="910.6,7.3 920.6,7.3 920.6,18.3 925.6,18.3 915.6,28.4 905.6,18.3 910.6,18.3"/>
<polygon points="7.3,414.5 18.3,414.5 18.3,409.5 29.2,419.5 18.3,429.5 18.3,424.5 7.3,424.5"/>
</g>
</svg>
